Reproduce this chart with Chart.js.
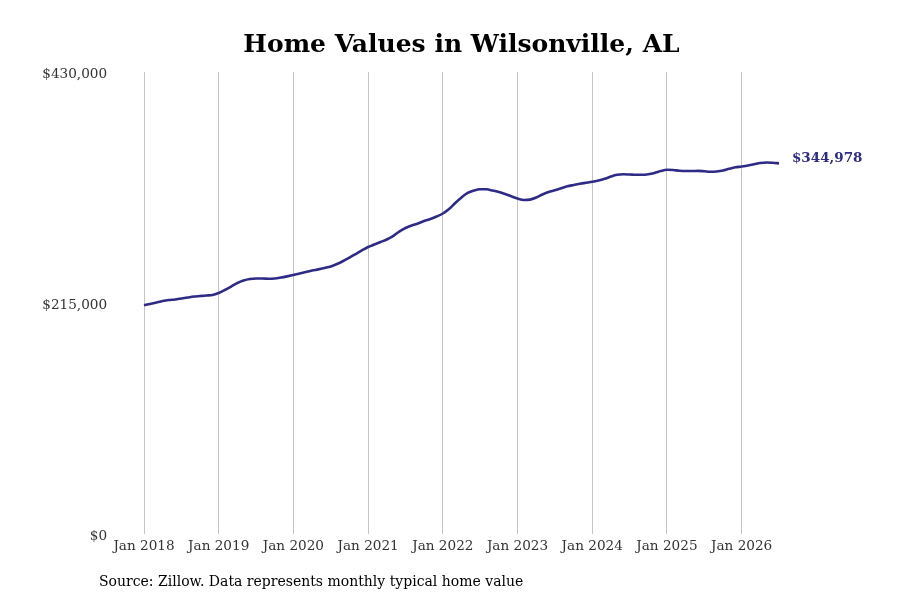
<!DOCTYPE html>
<html>
<head>
<meta charset="utf-8">
<title>Home Values in Wilsonville, AL</title>
<script src="https://cdn.jsdelivr.net/npm/chart.js@4.4.1/dist/chart.umd.min.js"></script>
<style>
    html, body { margin: 0; padding: 0; background: #fff; }
    #wrap { width: 900px; height: 600px; }
</style>
</head>
<body>
<div id="wrap"><canvas id="chart" width="900" height="600"></canvas></div>
<script>
// --- Data ---
const firstYear = 2018;
const yearTicks = [0, 12, 24, 36, 48, 60, 72, 84, 96]; // month index of each January
const yTicks = [0, 215000, 430000];

// typical home value, monthly, Jan 2018 .. Jul 2026
const homeValues = [
    212900, 214100, 215500, 216900, 217800, 218300, 219200, 220100, 221000, 221500, 222000, 222400, // 2018
    224300, 227100, 230300, 233600, 235900, 237300, 237800, 237800, 237600, 237800, 238700, 239800, // 2019
    241000, 242400, 243800, 245200, 246300, 247600, 249000, 251300, 254100, 257300, 260600, 263900, // 2020
    267100, 269400, 271800, 274100, 277300, 281500, 284800, 287100, 289000, 291300, 293200, 295500, // 2021
    298300, 302500, 308100, 313200, 317400, 319700, 320900, 320800, 319700, 318300, 316400, 314400, // 2022
    312200, 310800, 311200, 313200, 316000, 318300, 319900, 321700, 323600, 324800, 325900, 326900, // 2023
    327900, 329000, 330600, 332700, 334300, 334800, 334600, 334300, 334300, 334800, 336000, 337800, // 2024
    339000, 338800, 338100, 337800, 337800, 338000, 337600, 337100, 337400, 338300, 339900, 341300, // 2025
    342000, 343000, 344100, 345300, 345800, 345500, 344978                                          // 2026
];

const titleText = 'Home Values in Wilsonville, AL';
const sourceText = 'Source: Zillow. Data represents monthly typical home value';

// --- Styles ---
const lineColor = '#2e2b86';
const serif = '"DejaVu Serif", "Liberation Serif", serif';

const fmtMoney = v => '$' + Math.round(v).toLocaleString('en-US');

// text that is not part of Chart.js' own layout
const annotations = {
    id: 'annotations',
    afterDraw(chart) {
        const ctx = chart.ctx;
        const xs = chart.scales.x;
        const ys = chart.scales.y;
        ctx.save();

        ctx.fillStyle = '#000';
        ctx.font = 'bold 25px ' + serif;
        ctx.textAlign = 'center';
        ctx.textBaseline = 'middle';
        ctx.fillText(titleText, 461.5, 45);

        ctx.font = '14px ' + serif;
        ctx.textAlign = 'left';
        ctx.fillText(sourceText, 99, 582);

        // last value label next to line end
        const lastIdx = homeValues.length - 1;
        const px = xs.getPixelForValue(lastIdx);
        const py = ys.getPixelForValue(homeValues[lastIdx]);
        ctx.fillStyle = lineColor;
        ctx.font = 'bold 13.5px ' + serif;
        ctx.fillText(fmtMoney(homeValues[lastIdx]), px + 13, py - 5);

        ctx.restore();
    }
};

new Chart(document.getElementById('chart').getContext('2d'), {
    type: 'line',
    data: {
        datasets: [{
            data: homeValues.map((v, i) => ({ x: i, y: v })),
            borderColor: lineColor,
            borderWidth: 2.6,
            pointRadius: 0,
            tension: 0.4,
            cubicInterpolationMode: 'monotone',
            fill: false
        }]
    },
    options: {
        responsive: false,
        animation: false,
        events: [],
        layout: { padding: { top: 72, right: 114.8, left: 0, bottom: 0 } },
        plugins: {
            legend: { display: false },
            tooltip: { enabled: false },
            title: { display: false }
        },
        scales: {
            x: {
                type: 'linear',
                min: -4,
                max: 103,
                afterBuildTicks: s => { s.ticks = yearTicks.map(v => ({ value: v })); },
                afterFit: s => { s.height = 66; },
                ticks: {
                    autoSkip: false,
                    maxRotation: 0,
                    padding: 4,
                    color: '#333',
                    font: { family: serif, size: 13.6 },
                    callback: v => 'Jan ' + (firstYear + v / 12)
                },
                grid: { color: '#c4c4c4', lineWidth: 1, drawTicks: false },
                border: { display: false }
            },
            y: {
                min: 0,
                max: 430000,
                afterBuildTicks: s => { s.ticks = yTicks.map(v => ({ value: v })); },
                afterFit: s => { s.width = 119.1; },
                ticks: {
                    padding: 12,
                    labelOffset: 2,
                    color: '#333',
                    font: { family: serif, size: 13.6 },
                    callback: v => fmtMoney(v)
                },
                grid: { display: false, drawTicks: false },
                border: { display: false }
            }
        }
    },
    plugins: [annotations]
});
</script>
</body>
</html>
